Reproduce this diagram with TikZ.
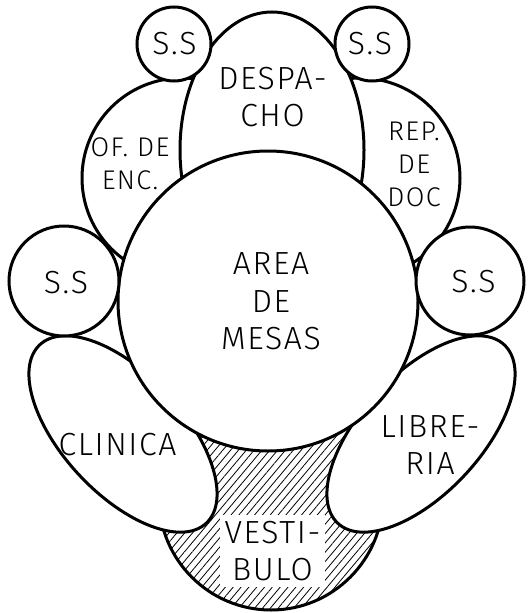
\documentclass[tikz,border=0pt]{standalone}
\usepackage{fontspec}
\setmainfont{Fira Sans Light}[LetterSpace=5]
\usetikzlibrary{shapes.geometric,patterns.meta}
\tikzset{
  bubble/.style={draw, line width=3pt, fill=white, inner sep=0pt},
  roundb/.style={bubble, circle},
  oval/.style={bubble, ellipse, minimum width=244pt, minimum height=120pt},
  hatched/.style={draw, line width=3pt, circle, inner sep=0pt,
    pattern={Lines[angle=50, distance=6pt, line width=0.8pt]}},
  lbl/.style={align=center, inner sep=0pt, font=\fontsize{32}{37.5}\selectfont},
  lblsm/.style={align=center, inner sep=0pt, font=\fontsize{27}{33}\selectfont},
}
\begin{document}
\begin{tikzpicture}[x=1pt, y=-1pt]
\useasboundingbox (0,0) rectangle (529,613);
% lowest layer
\node[hatched, minimum size=224pt] (vest) at (271,498) {};
\node[lbl, fill=white, inner xsep=5pt, inner ysep=6pt] (vestt) at (272.5,551) {VESTI-\\BULO};
\node[oval, rotate=-47] (clin) at (123,434) {};
\node[oval, rotate=47] (libr) at (421,434) {};
\node[roundb, minimum size=200pt] (ofe) at (182,178) {};
\node[roundb, minimum size=200pt] (rep) at (360,178) {};
\node[bubble, ellipse, minimum width=184pt, minimum height=276pt] (desp) at (272,150) {};
\node[roundb, minimum size=300pt] (area) at (268,301) {};
\node[roundb, minimum size=74pt] (ss1) at (174,44) {};
\node[roundb, minimum size=74pt] (ss2) at (372,44) {};
\node[roundb, minimum size=110pt] (ss3) at (64,281) {};
\node[roundb, minimum size=108pt] (ss4) at (470,281) {};
% labels
\node[lbl] (ss1t) at (174.5,44) {S.S};
\node[lbl] (ss2t) at (370,44) {S.S};
\node[lbl] (ss3t) at (66,282.5) {S.S};
\node[lbl] (ss4t) at (473.5,282) {S.S};
\node[lbl] (despt) at (272.5,97) {DESPA-\\CHO};
\node[lblsm] (ofet) at (130,164) {OF. DE\\ENC.};
\node[lblsm] (rept) at (414,164.5) {REP.\\DE\\DOC};
\node[lbl] (areat) at (271,301.5) {AREA\\DE\\MESAS};
\node[lbl] (clint) at (117.5,445) {CLINICA};
\node[lbl] (librt) at (430,445) {LIBRE-\\RIA};
\end{tikzpicture}
\end{document}
